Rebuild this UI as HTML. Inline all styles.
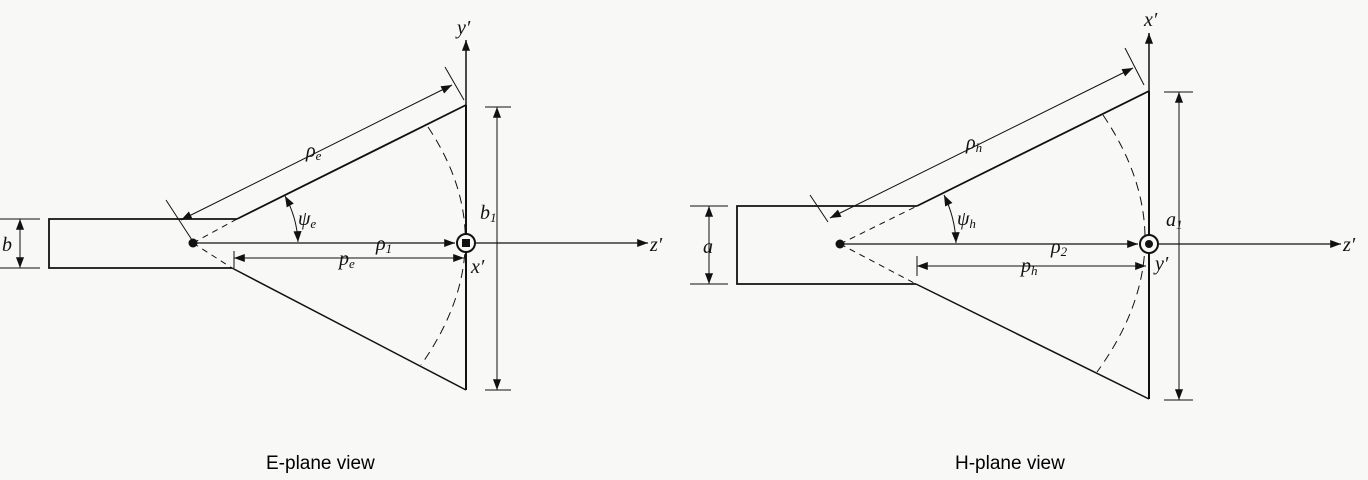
<!DOCTYPE html>
<html><head><meta charset="utf-8"><style>
html,body{margin:0;padding:0;background:#f8f8f7;}
svg{display:block}
.t{font-family:"Liberation Serif",serif;font-style:italic;font-size:20px;fill:#111}
.c{font-family:"Liberation Sans",sans-serif;font-size:19px;fill:#000}
</style></head><body>
<svg width="1368" height="480" viewBox="0 0 1368 480">
<defs>
<marker id="a" viewBox="0 0 12 10" refX="12" refY="5" markerWidth="12" markerHeight="9" orient="auto-start-reverse" markerUnits="userSpaceOnUse"><path d="M0,0.5 L12,5 L0,9.5 z" fill="#111"/></marker>
</defs>
<g stroke="#111" fill="none">
<!-- LEFT: E-plane -->
<polyline points="237,219 49,219 49,268 232,268" stroke-width="1.8"/>
<line x1="237" y1="219" x2="466" y2="105" stroke-width="1.8"/>
<line x1="232" y1="268" x2="466" y2="390" stroke-width="1.5"/>
<line x1="466" y1="105" x2="466" y2="390" stroke-width="2"/>
<line x1="193" y1="243" x2="237" y2="219" stroke-dasharray="6,5" stroke-width="1"/>
<line x1="193" y1="243" x2="232" y2="268" stroke-dasharray="6,5" stroke-width="1"/>
<path d="M428,127 Q506,244 421,365" stroke-dasharray="9,6" stroke-width="1"/>
<line x1="466" y1="105" x2="466" y2="40" stroke-width="1.5" marker-end="url(#a)"/>
<line x1="193" y1="243" x2="455" y2="243" stroke-width="1.2" marker-end="url(#a)"/>
<line x1="476" y1="243" x2="648" y2="243" stroke-width="1.2" marker-end="url(#a)"/>
<line x1="0" y1="219" x2="40" y2="219" stroke-width="1"/>
<line x1="0" y1="268" x2="40" y2="268" stroke-width="1"/>
<line x1="20" y1="219" x2="20" y2="268" stroke-width="1" marker-start="url(#a)" marker-end="url(#a)"/>
<line x1="485" y1="107" x2="511" y2="107" stroke-width="1"/>
<line x1="485" y1="390" x2="511" y2="390" stroke-width="1"/>
<line x1="497" y1="107" x2="497" y2="390" stroke-width="1" marker-start="url(#a)" marker-end="url(#a)"/>
<line x1="166" y1="200" x2="192" y2="240" stroke-width="1"/>
<line x1="445" y1="67" x2="464" y2="100" stroke-width="1"/>
<line x1="181" y1="220" x2="452" y2="85" stroke-width="1" marker-start="url(#a)" marker-end="url(#a)"/>
<line x1="234" y1="251" x2="234" y2="268" stroke-width="1"/>
<line x1="234" y1="258" x2="464" y2="258" stroke-width="1" marker-start="url(#a)" marker-end="url(#a)"/>
<path d="M285,196 A104,104 0 0 1 298,242" stroke-width="1" marker-start="url(#a)" marker-end="url(#a)"/>
<circle cx="466" cy="243" r="9" stroke-width="2" fill="#f8f8f7"/>
<!-- RIGHT: H-plane -->
<polyline points="917,206 737,206 737,284 916,284" stroke-width="1.8"/>
<line x1="917" y1="206" x2="1149" y2="91" stroke-width="1.8"/>
<line x1="916" y1="284" x2="1149" y2="399" stroke-width="1.5"/>
<line x1="1149" y1="91" x2="1149" y2="399" stroke-width="2"/>
<line x1="840" y1="244" x2="917" y2="206" stroke-dasharray="6,5" stroke-width="1"/>
<line x1="840" y1="244" x2="916" y2="284" stroke-dasharray="6,5" stroke-width="1"/>
<path d="M1103,115 Q1190,244 1097,372" stroke-dasharray="9,6" stroke-width="1"/>
<line x1="1149" y1="91" x2="1149" y2="33" stroke-width="1.5" marker-end="url(#a)"/>
<line x1="840" y1="244" x2="1138" y2="244" stroke-width="1.2" marker-end="url(#a)"/>
<line x1="1159" y1="244" x2="1341" y2="244" stroke-width="1.2" marker-end="url(#a)"/>
<line x1="690" y1="206" x2="728" y2="206" stroke-width="1"/>
<line x1="690" y1="284" x2="728" y2="284" stroke-width="1"/>
<line x1="709" y1="206" x2="709" y2="284" stroke-width="1" marker-start="url(#a)" marker-end="url(#a)"/>
<line x1="1164" y1="92" x2="1193" y2="92" stroke-width="1"/>
<line x1="1164" y1="400" x2="1193" y2="400" stroke-width="1"/>
<line x1="1179" y1="92" x2="1179" y2="400" stroke-width="1" marker-start="url(#a)" marker-end="url(#a)"/>
<line x1="810" y1="195" x2="828" y2="222" stroke-width="1"/>
<line x1="1125" y1="48" x2="1144" y2="85" stroke-width="1"/>
<line x1="830" y1="218" x2="1133" y2="68" stroke-width="1" marker-start="url(#a)" marker-end="url(#a)"/>
<line x1="917" y1="256" x2="917" y2="276" stroke-width="1"/>
<line x1="917" y1="266" x2="1146" y2="266" stroke-width="1" marker-start="url(#a)" marker-end="url(#a)"/>
<path d="M944,195 A117,117 0 0 1 956,243" stroke-width="1" marker-start="url(#a)" marker-end="url(#a)"/>
<circle cx="1149" cy="244" r="9" stroke-width="2" fill="#f8f8f7"/>
</g>
<circle cx="193" cy="243" r="4.5" fill="#111"/>
<rect x="462" y="239" width="8" height="8" fill="#111"/>
<circle cx="840" cy="244" r="4.5" fill="#111"/>
<circle cx="1149" cy="244" r="4" fill="#111"/>
<g class="t">
<text x="457" y="34">y′</text>
<text x="471" y="273">x′</text>
<text x="650" y="251">z′</text>
<text x="306" y="157">ρ<tspan font-size="13" dy="3">e</tspan></text>
<text x="298" y="225">ψ<tspan font-size="13" dy="3">e</tspan></text>
<text x="376" y="250">ρ<tspan font-size="13" dy="3">1</tspan></text>
<text x="339" y="265">p<tspan font-size="13" dy="3">e</tspan></text>
<text x="480" y="219">b<tspan font-size="13" dy="3">1</tspan></text>
<text x="2" y="251">b</text>
<text x="1144" y="26">x′</text>
<text x="1155" y="270">y′</text>
<text x="1343" y="251">z′</text>
<text x="966" y="149">ρ<tspan font-size="13" dy="3">h</tspan></text>
<text x="957" y="225">ψ<tspan font-size="13" dy="3">h</tspan></text>
<text x="1051" y="253">ρ<tspan font-size="13" dy="3">2</tspan></text>
<text x="1021" y="272">p<tspan font-size="13" dy="3">h</tspan></text>
<text x="1166" y="226">a<tspan font-size="13" dy="3">1</tspan></text>
<text x="703" y="253">a</text>
</g>
<text class="c" x="266" y="469">E-plane view</text>
<text class="c" x="955" y="469">H-plane view</text>
</svg>
</body></html>
